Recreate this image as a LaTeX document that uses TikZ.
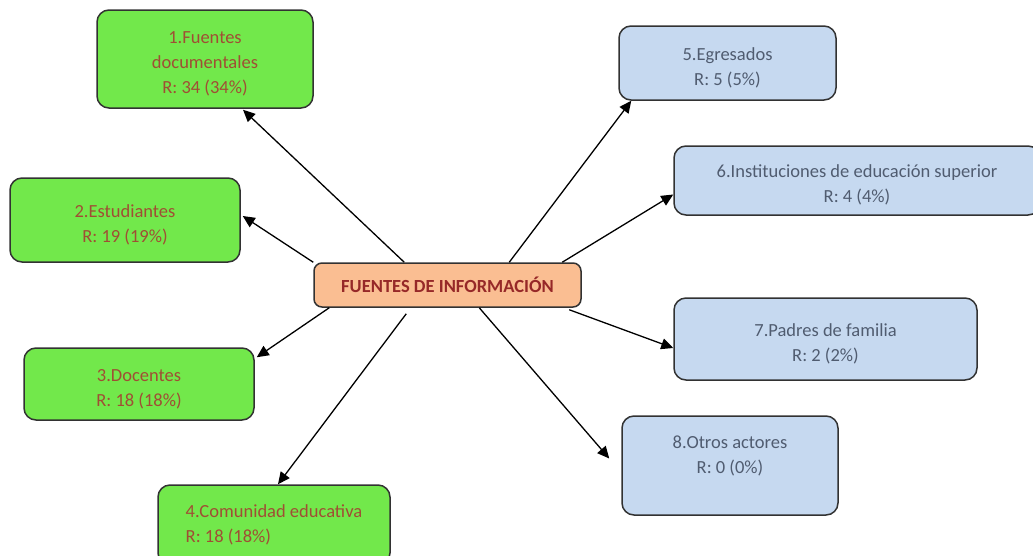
\documentclass[tikz,border=0pt]{standalone}
\usepackage{fontspec}
\setmainfont{Carlito}
\usetikzlibrary{calc,arrows.meta}
\definecolor{greenfill}{RGB}{114,232,75}
\definecolor{bluefill}{RGB}{198,217,240}
\definecolor{orangefill}{RGB}{250,190,146}
\definecolor{edgegray}{RGB}{50,50,50}
\definecolor{browntext}{RGB}{160,78,52}
\definecolor{slatetext}{RGB}{80,92,112}
\definecolor{redtext}{RGB}{150,40,40}
% a taller first line sets the text a little below the middle of its box
\newcommand\firstlinestrut{\rule{0pt}{22pt}}
\tikzset{
  box/.style={draw=edgegray, line width=1.5pt, rounded corners=12pt,
    align=center, font=\fontsize{18.5}{25}\selectfont, inner sep=0pt},
  greenbox/.style={box, fill=greenfill, text=browntext},
  bluebox/.style={box, fill=bluefill, text=slatetext},
  hubbox/.style={box, fill=orangefill, text=redtext, rounded corners=8pt,
    font=\fontsize{18.5}{20}\selectfont\bfseries},
  link/.style={line width=1.3pt, -{Triangle[length=12pt,width=11pt]}}
}
\begin{document}
\begin{tikzpicture}[x=1pt,y=-1pt]
\useasboundingbox (0,0) rectangle (1033,555);

% central topic
\node[hubbox, minimum width=267pt, minimum height=44pt] (c) at (447.5,285) {FUENTES DE INFORMACIÓN};

% sources on the left
\node[greenbox, minimum width=216pt, minimum height=98pt] (b1) at (205,59)
  {\firstlinestrut 1.Fuentes\\documentales\\R: 34 (34\%)};
\node[greenbox, minimum width=230pt, minimum height=84pt] (b2) at (125,220)
  {\firstlinestrut 2.Estudiantes\\R: 19 (19\%)};
\node[greenbox, minimum width=230pt, minimum height=72pt] (b3) at (139,384)
  {\firstlinestrut 3.Docentes\\R: 18 (18\%)};
\node[greenbox, minimum width=232pt, minimum height=80pt, align=left] (b4) at (274,525)
  {4.Comunidad educativa\\R: 18 (18\%)};

% sources on the right
\node[bluebox, minimum width=217pt, minimum height=74pt] (b5) at (727.5,63)
  {\firstlinestrut 5.Egresados\\R: 5 (5\%)};
\node[bluebox, minimum width=366pt, minimum height=69pt] (b6) at (857,180.5)
  {\firstlinestrut 6.Instituciones de educación superior\\R: 4 (4\%)};
\node[bluebox, minimum width=303pt, minimum height=82pt] (b7) at (825.5,339)
  {\firstlinestrut 7.Padres de familia\\R: 2 (2\%)};
\node[bluebox, minimum width=216pt, minimum height=99pt] (b8) at (730,465.5)
  {8.Otros actores\\R: 0 (0\%)\\[-4pt]~};

% connectors
\draw[link] ($(c.north west)+(91,0)$) -- ($(b1.south)+(38,1)$);
\draw[link] (c.north west) -- ($(b2.east)+(2,-4)$);
\draw[link] ($(c.south west)+(16,0)$) -- ($(b3.north east)+(2,10)$);
\draw[link] ($(c.south west)+(93,6)$) -- ($(b4.north)+(4,0)$);
\draw[link] ($(c.north west)+(196,0)$) -- ($(b5.south west)+(13,0)$);
\draw[link] ($(c.north west)+(249,0)$) -- ($(b6.west)+(0,14)$);
\draw[link] ($(c.south west)+(256,2)$) -- ($(b7.west)+(0,9)$);
\draw[link] ($(c.south west)+(166,0)$) -- ($(b8.west)+(-12,-7)$);
\end{tikzpicture}
\end{document}
